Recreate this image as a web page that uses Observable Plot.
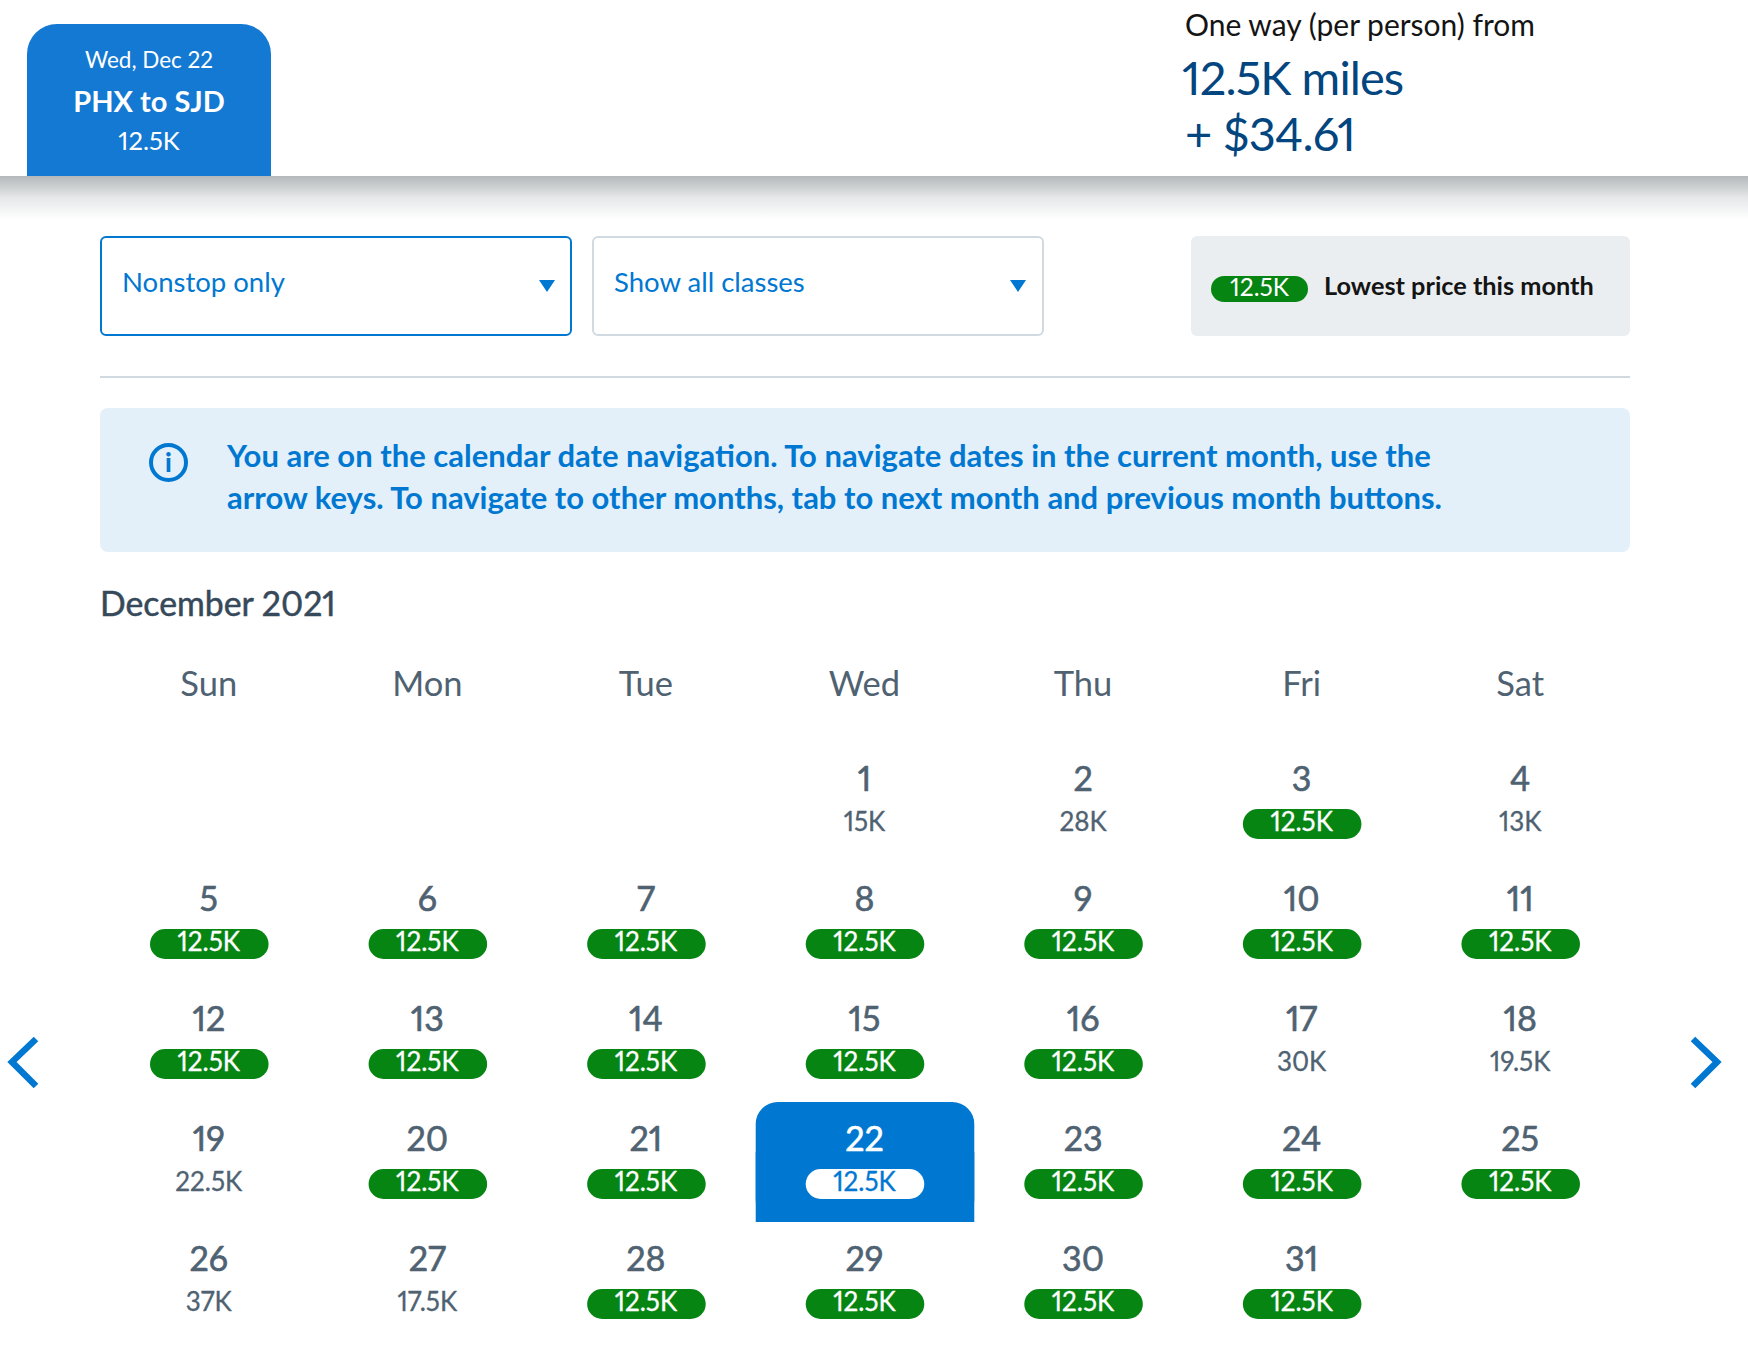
<!DOCTYPE html>
<html>
<head>
<meta charset="utf-8">
<script src="https://cdn.jsdelivr.net/npm/d3@7"></script>
<script src="https://cdn.jsdelivr.net/npm/@observablehq/plot@0.6"></script>
<style>
  html, body { margin: 0; background: #fff; }
  body { width: 1748px; height: 1356px; position: relative; overflow: hidden; font-family: Lato, sans-serif; font-variant-numeric: proportional-nums; }
  .abs { position: absolute; white-space: nowrap; }
  #tab { left: 27px; top: 24px; width: 244px; height: 152px; background: #1479d2; border-radius: 30px 30px 0 0; color: #fff; text-align: center; }
  #tab div { position: absolute; left: 0; right: 0; }
  #shadow { left: 0; top: 176px; width: 1748px; height: 44px; background: linear-gradient(#b4b8ba, #e6e8e9 50%, #fff); }
  .select { top: 236px; height: 100px; box-sizing: border-box; border-radius: 6px; background: #fff; color: #0078d2; font-size: 27.5px; line-height: 88px; padding-left: 20px; }
  .arrow { top: 280px; width: 0; height: 0; border-left: 8px solid transparent; border-right: 8px solid transparent; border-top: 12px solid #0078d2; }
  #legend { left: 1191px; top: 236px; width: 439px; height: 100px; background: #ebeef0; border-radius: 6px; }
  #pill { left: 1211px; top: 276px; width: 97px; height: 26px; border-radius: 13px; background: #078513; color: #fff; font-size: 24.5px; line-height: 22px; text-align: center; }
  #info { left: 100px; top: 408px; width: 1530px; height: 144px; background: #e3f0f9; border-radius: 8px; }
  #icon { left: 149px; top: 443px; width: 31px; height: 31px; border: 4px solid #0078d2; border-radius: 50%; color: #0078d2; font: 900 26px/31px Lato, sans-serif; text-align: center; }
  .infotext { left: 227px; color: #0078d2; font-weight: 700; font-size: 31px; line-height: 42px; }
  #chart { position: absolute; left: 0; top: 640px; }
  #chart svg { display: block; }
</style>
</head>
<body>
  <div class="abs" id="shadow"></div>
  <div class="abs" id="tab">
    <div style="top:20px;font-size:22.5px;line-height:32px">Wed, Dec 22</div>
    <div style="top:58px;font-size:29px;line-height:38px;font-weight:700">PHX to SJD</div>
    <div style="top:100px;font-size:25.5px;line-height:32px">12.5K</div>
  </div>
  <div class="abs" style="left:1185px;top:5px;font-size:30px;line-height:38px;color:#141414">One way (per person) from</div>
  <div class="abs" style="left:1182px;top:49px;font-size:47px;line-height:56px;letter-spacing:-0.9px;color:#03467f">12.5K miles</div>
  <div class="abs" style="left:1185px;top:105px;font-size:47px;line-height:56px;letter-spacing:-0.7px;color:#03467f">+ $34.61</div>

  <div class="abs select" style="left:100px;width:472px;border:2px solid #0078d2">Nonstop only</div>
  <div class="abs arrow" style="left:539px"></div>
  <div class="abs select" style="left:592px;width:452px;border:2px solid #d0dae0">Show all classes</div>
  <div class="abs arrow" style="left:1010px"></div>
  <div class="abs" id="legend"></div>
  <div class="abs" id="pill">12.5K</div>
  <div class="abs" style="left:1324px;top:267px;font-size:25.3px;line-height:36px;font-weight:700;color:#141414">Lowest price this month</div>
  <div class="abs" style="left:100px;top:376px;width:1530px;height:2px;background:#d0dae0"></div>

  <div class="abs" id="info"></div>
  <div class="abs" id="icon">i</div>
  <div class="abs infotext" style="top:434px">You are on the calendar date navigation. To navigate dates in the current month, use the</div>
  <div class="abs infotext" style="top:476px">arrow keys. To navigate to other months, tab to next month and previous month buttons.</div>

  <div class="abs" style="left:100px;top:581px;font-size:33.8px;line-height:44px;-webkit-text-stroke:0.5px #36495a;color:#36495a">December 2021</div>

  <div id="chart"></div>

  <svg class="abs" style="left:1px;top:1030px" width="50" height="66"><polyline points="35,9 11,32 35,56" fill="none" stroke="#0078d2" stroke-width="6.5"/></svg>
  <svg class="abs" style="left:1685px;top:1030px" width="50" height="66"><polyline points="8,9 32,32 8,56" fill="none" stroke="#0078d2" stroke-width="6.5"/></svg>

<script>
const weekdays = ["Sun", "Mon", "Tue", "Wed", "Thu", "Fri", "Sat"]
const weeks = [0, 1, 2, 3, 4]
const dayNumbers = [1, 2, 3, 4, 5, 6, 7, 8, 9, 10, 11, 12, 13, 14, 15, 16, 17, 18, 19, 20, 21, 22, 23, 24, 25, 26, 27, 28, 29, 30, 31]
// miles (thousands) for each day of December 2021
const miles = [15, 28, 12.5, 13, 12.5, 12.5, 12.5, 12.5, 12.5, 12.5, 12.5, 12.5, 12.5, 12.5, 12.5, 12.5, 30, 19.5, 22.5, 12.5, 12.5, 12.5, 12.5, 12.5, 12.5, 37, 17.5, 12.5, 12.5, 12.5, 12.5]
const selectedDay = 22
const firstWeekday = 3 // Dec 1 2021 is a Wednesday

const lowest = d3.min(miles)
const days = dayNumbers.map((day, i) => ({
  day,
  price: miles[i] + "K",
  low: miles[i] === lowest,
  selected: day === selectedDay,
  weekday: weekdays[(day - 1 + firstWeekday) % 7],
  week: Math.floor((day - 1 + firstWeekday) / 7)
}))
const selected = days.filter(d => d.selected)
const slate = "#4f6272"

const chart = Plot.plot({
  width: 1748,
  height: 702,
  marginTop: 102,
  marginLeft: 100,
  marginRight: 118,
  marginBottom: 0,
  x: { type: "band", domain: weekdays, padding: 0, round: false },
  y: { type: "band", domain: weeks, padding: 0, round: false, axis: null },
  style: { fontFamily: "Lato, sans-serif", background: "transparent", fontVariantNumeric: "proportional-nums" },
  marks: [
    Plot.axisX({ anchor: "top", label: null, tickSize: 0, tickPadding: 47, dx: -1, fontSize: 34.5, fill: slate, stroke: slate, strokeWidth: 0.7 }),
    // selected day: rounded on top, square at the bottom
    Plot.cell(selected, { x: "weekday", y: "week", fill: "#0078d2", rx: 22 }),
    Plot.cell(selected, { x: "weekday", y: "week", fill: "#0078d2", insetTop: 50 }),
    // price pills
    Plot.cell(days.filter(d => d.low || d.selected), {
      x: "weekday", y: "week",
      fill: d => d.selected ? "#ffffff" : "#078513",
      insetLeft: 50, insetRight: 50, insetTop: 67, insetBottom: 23, rx: 15
    }),
    Plot.text(days, {
      x: "weekday", y: "week", text: "day", dy: -22, dx: -1,
      fontSize: 34, fontVariant: "proportional-nums",
      fill: d => d.selected ? "#ffffff" : slate,
      stroke: d => d.selected ? "#ffffff" : slate, strokeWidth: 0.6
    }),
    Plot.text(days, {
      x: "weekday", y: "week", text: "price", dy: 20, dx: -1,
      fontSize: 26, fontVariant: "proportional-nums",
      fill: d => d.selected ? "#0078d2" : d.low ? "#ffffff" : slate,
      stroke: d => d.selected ? "#0078d2" : d.low ? "#ffffff" : slate, strokeWidth: 0.3
    })
  ]
})

d3.select("#chart").append(() => chart)
</script>
</body>
</html>
